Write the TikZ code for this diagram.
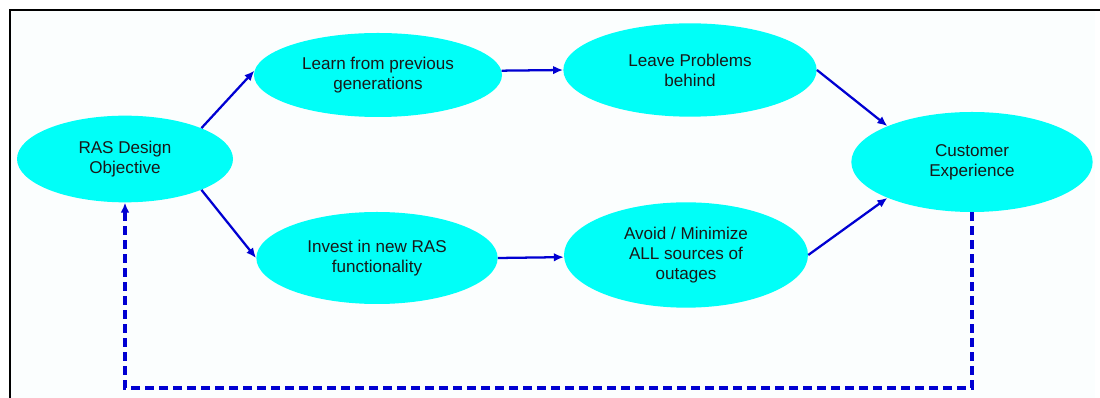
\documentclass[tikz,border=0pt]{standalone}
\usepackage{fontspec}
\setmainfont{Liberation Sans}
\usetikzlibrary{shapes.geometric,arrows.meta}
\definecolor{goalcyan}{RGB}{0,255,248}
\definecolor{flowblue}{RGB}{0,0,210}
\definecolor{paper}{RGB}{251,254,254}
\begin{document}
\begin{tikzpicture}[x=0.75pt,y=-0.75pt,
    goal/.style={ellipse, fill=goalcyan, inner sep=0pt, align=center,
      font=\fontsize{12.8}{15}\selectfont, text=black!90},
    flow/.style={flowblue, line width=1.7pt, -{Latex[length=7.5pt,width=6.5pt]}},
    loopback/.style={flow, line width=2.6pt, dash pattern=on 6.5pt off 4pt}]
    \useasboundingbox (0,0) rectangle (1100,398);
    % page frame
    \fill[paper] (10,10) rectangle (1095,398);
    \draw[line width=0.9pt] (10,398) -- (10,10) -- (1100,10);
    % objective and goals
    \node[goal, minimum width=162pt, minimum height=65pt] (ras) at (125,159) {RAS Design\\Objective};
    \node[goal, minimum width=186pt, minimum height=63pt] (learn) at (378,75) {Learn from previous\\generations};
    \node[goal, minimum width=190pt, minimum height=70pt] (leave) at (690,70) {Leave Problems\\behind};
    \node[goal, minimum width=181pt, minimum height=69pt] (invest) at (377,258) {Invest in new RAS\\functionality};
    \node[goal, minimum width=183pt, minimum height=79pt] (avoid) at (686,255) {Avoid / Minimize\\ALL sources of\\outages};
    \node[goal, minimum width=181pt, minimum height=75pt] (customer) at (972,162) {Customer\\Experience};
    % upper path
    \draw[flow] (ras.22) -- (learn.178);
    \draw[flow] (learn.2) -- (leave.west);
    \draw[flow] (leave.east) -- (customer.157);
    % lower path
    \draw[flow] (ras.-22) -- (invest.west);
    \draw[flow] (invest.east) -- (avoid.181);
    \draw[flow] (avoid.east) -- (customer.203);
    % feedback loop
    \coordinate (fb) at (125,388);
    \draw[loopback] (customer.south) |- (fb) -- (ras.south);
\end{tikzpicture}
\end{document}
